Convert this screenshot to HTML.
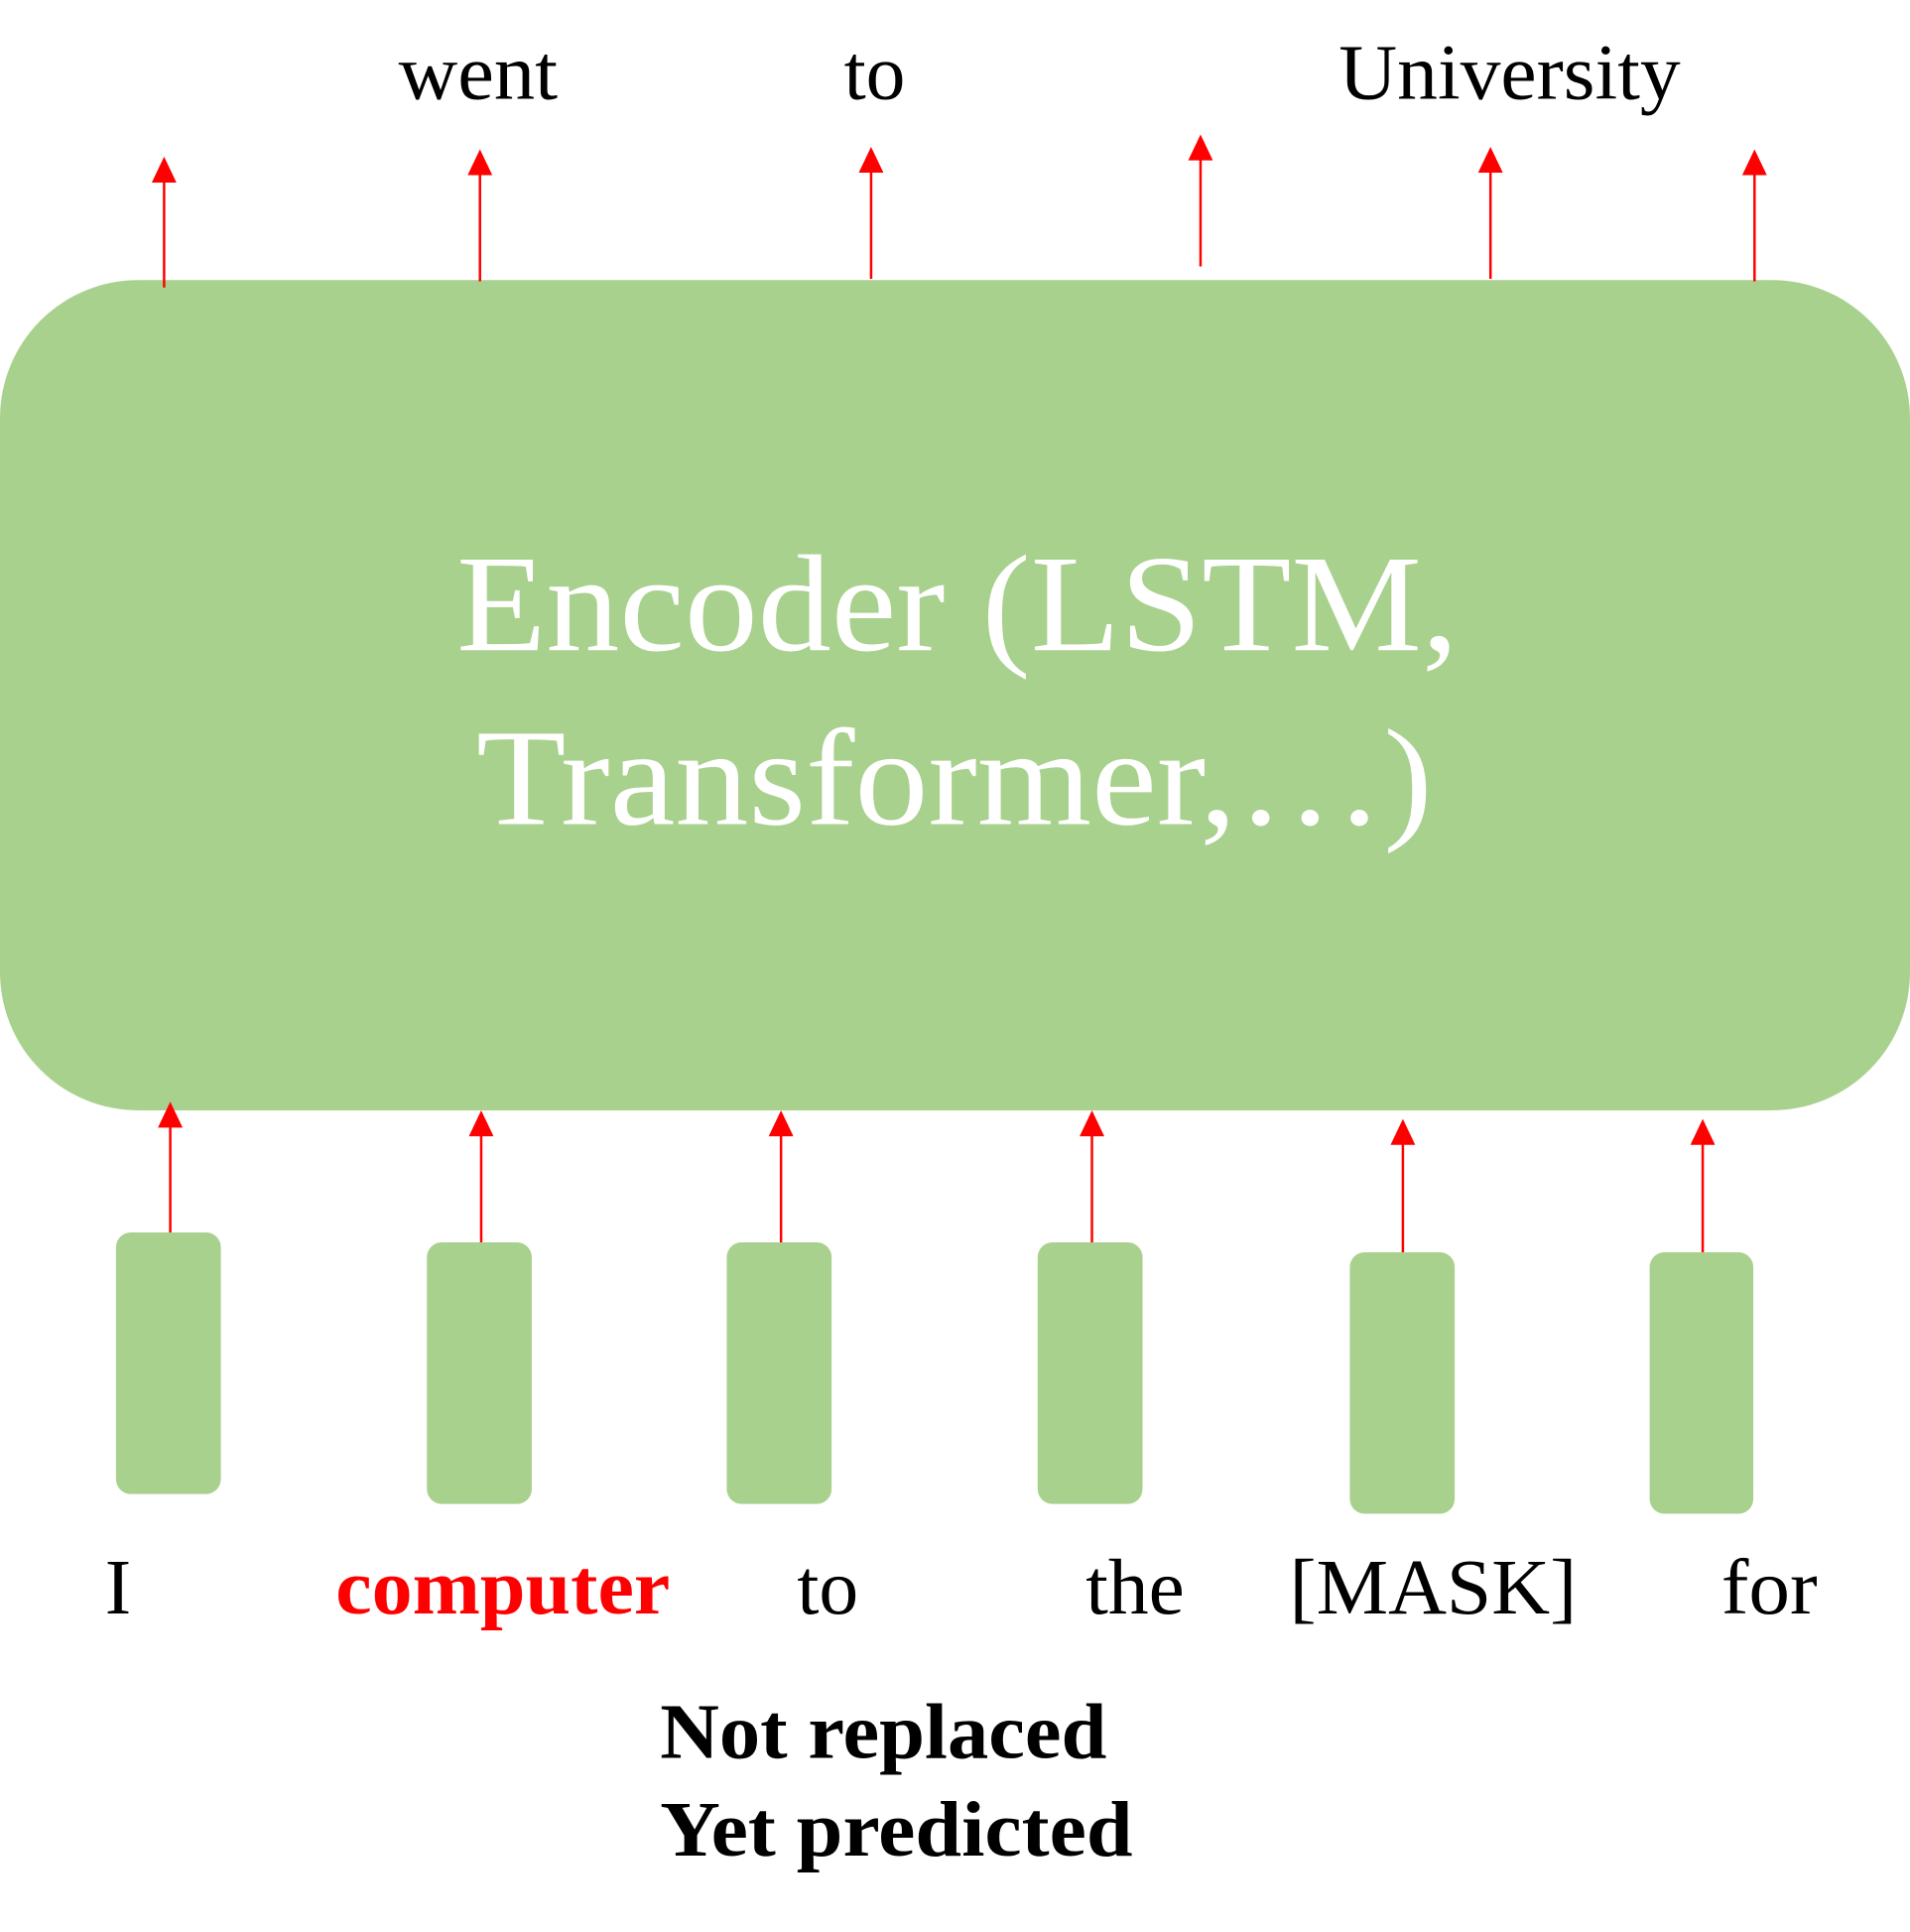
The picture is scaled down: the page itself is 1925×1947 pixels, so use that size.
<!DOCTYPE html>
<html><head><style>html,body{margin:0;padding:0;background:#fff}svg{display:block}</style></head><body>
<svg width="1925" height="1947" viewBox="0 0 1548 1566" preserveAspectRatio="none" xmlns="http://www.w3.org/2000/svg" font-family="'Liberation Serif', serif">
<rect x="0" y="227" width="1548" height="673" rx="112" fill="#a9d18e"/>
<text x="370" y="527" font-size="112" fill="#fff" textLength="812" lengthAdjust="spacingAndGlyphs">Encoder (LSTM,</text>
<text x="386" y="668" font-size="112" fill="#fff" textLength="775" lengthAdjust="spacingAndGlyphs">Transformer,…)</text>
<g stroke="#ff0000" stroke-width="2">
<line x1="133" y1="233" x2="133" y2="145"/><line x1="389" y1="228" x2="389" y2="139"/><line x1="706" y1="226" x2="706" y2="137"/><line x1="973" y1="216" x2="973" y2="127"/><line x1="1208" y1="226" x2="1208" y2="137"/><line x1="1422" y1="228" x2="1422" y2="139"/>
<line x1="138" y1="999" x2="138" y2="911"/><line x1="390" y1="1007" x2="390" y2="918"/><line x1="633" y1="1007" x2="633" y2="918"/><line x1="885" y1="1007" x2="885" y2="918"/><line x1="1137" y1="1015" x2="1137" y2="925"/><line x1="1380" y1="1015" x2="1380" y2="925"/>
</g>
<g fill="#ff0000">
<polygon points="133,127 123,148 143,148"/><polygon points="389,121 379,142 399,142"/><polygon points="706,119 696,140 716,140"/><polygon points="973,109 963,130 983,130"/><polygon points="1208,119 1198,140 1218,140"/><polygon points="1422,121 1412,142 1432,142"/>
<polygon points="138,893 128,914 148,914"/><polygon points="390,900 380,921 400,921"/><polygon points="633,900 623,921 643,921"/><polygon points="885,900 875,921 895,921"/><polygon points="1137,907 1127,928 1147,928"/><polygon points="1380,907 1370,928 1390,928"/>
</g>
<g fill="#a9d18e">
<rect x="94" y="999" width="85" height="212" rx="12"/><rect x="346" y="1007" width="85" height="212" rx="12"/><rect x="589" y="1007" width="85" height="212" rx="12"/><rect x="841" y="1007" width="85" height="212" rx="12"/><rect x="1094" y="1015" width="85" height="212" rx="12"/><rect x="1337" y="1015" width="84" height="212" rx="12"/>
</g>
<g font-size="64" fill="#000">
<text x="323" y="80" textLength="129" lengthAdjust="spacingAndGlyphs">went</text>
<text x="684" y="80">to</text>
<text x="1085" y="80" textLength="277" lengthAdjust="spacingAndGlyphs">University</text>
<text x="85" y="1308">I</text>
<text x="272" y="1308" fill="#ff0000" font-weight="bold" textLength="271" lengthAdjust="spacingAndGlyphs">computer</text>
<text x="646" y="1308">to</text>
<text x="880" y="1308" textLength="80" lengthAdjust="spacingAndGlyphs">the</text>
<text x="1045" y="1308" textLength="233" lengthAdjust="spacingAndGlyphs">[MASK]</text>
<text x="1395" y="1308" textLength="78" lengthAdjust="spacingAndGlyphs">for</text>
<text x="535" y="1425" font-weight="bold" textLength="362" lengthAdjust="spacingAndGlyphs">Not replaced</text>
<text x="535" y="1504" font-weight="bold" textLength="383" lengthAdjust="spacingAndGlyphs">Yet predicted</text>
</g>
</svg>
</body></html>
